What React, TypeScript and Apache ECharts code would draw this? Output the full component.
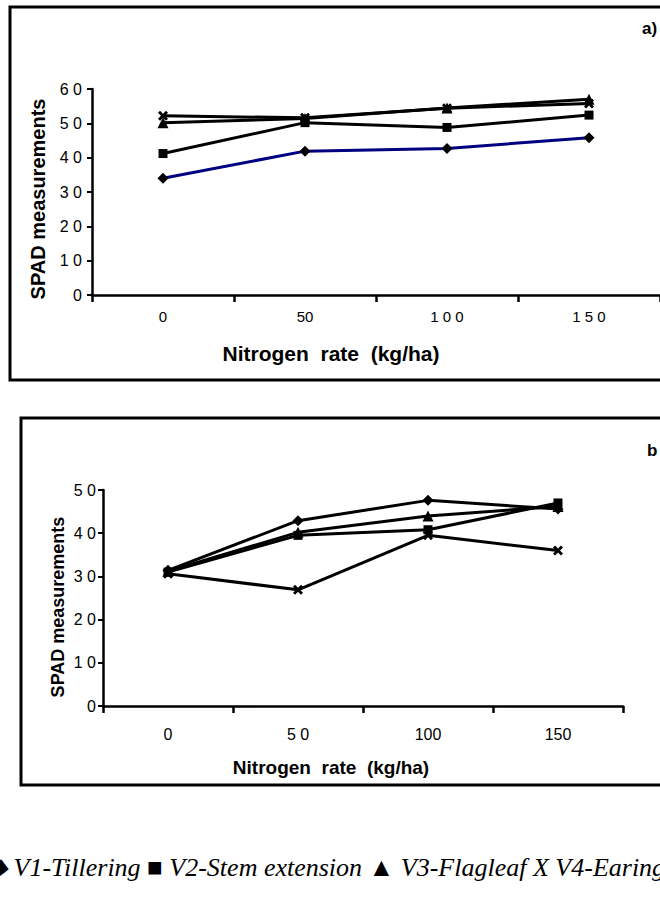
import React, { useEffect, useRef } from "react";
import * as echarts from "echarts";

const categories = ["0", "50", "100", "150"];
const xLabelsA = ["0", "50", "1 0 0", "1 5 0"];
const xLabelsB = ["0", "5 0", "100", "150"];
const yLabelsA = ["0", "1 0", "2 0", "3 0", "4 0", "5 0", "6 0"];
const yLabelsB = ["0", "1 0", "2 0", "3 0", "4 0", "5 0"];

const seriesNames = ["V1-Tillering", "V2-Stem extension", "V3-Flagleaf", "V4-Earing"];

// Panel a
const a_V1 = [34.0, 41.9, 42.7, 45.8];
const a_V2 = [41.2, 50.2, 48.8, 52.4];
const a_V3 = [50.2, 51.4, 54.5, 57.0];
const a_V4 = [52.2, 51.6, 54.4, 55.8];

// Panel b
const b_V1 = [31.4, 42.9, 47.6, 45.6];
const b_V2 = [31.0, 39.5, 40.8, 47.0];
const b_V3 = [31.2, 40.2, 44.0, 46.2];
const b_V4 = [30.6, 26.9, 39.5, 36.0];

const X_SYMBOL =
  "path://M0,2 L2,0 L5,3 L8,0 L10,2 L7,5 L10,8 L8,10 L5,7 L2,10 L0,8 L3,5 Z";
const symbols = ["diamond", "rect", "triangle", X_SYMBOL];
const symbolSizes = [11, 9, 11, 10];

export default function App() {
  const ref = useRef<HTMLDivElement>(null);
  useEffect(() => {
    if (!ref.current) return;
    const chart = echarts.init(ref.current, null, { renderer: "svg" });
    const sans = "Liberation Sans, Arial, sans-serif";
    const mkX = (gi: number, labels: string[], margin: number, size: number) => ({
      type: "category",
      gridIndex: gi,
      data: categories,
      boundaryGap: true,
      axisLine: { show: true, lineStyle: { color: "#000", width: 2.5 } },
      axisTick: { show: true, length: 7, lineStyle: { color: "#000", width: 2.5 } },
      axisLabel: {
        color: "#000",
        fontFamily: sans,
        fontSize: size,
        margin,
        formatter: (_v: string, i: number) => labels[i],
      },
      splitLine: { show: false },
    });
    const mkY = (gi: number, max: number, labels: string[], margin: number) => ({
      type: "value",
      gridIndex: gi,
      min: 0,
      max,
      interval: 10,
      axisLine: { show: true, lineStyle: { color: "#000", width: 2.5 } },
      axisTick: { show: true, length: 5, lineStyle: { color: "#000", width: 2 } },
      axisLabel: {
        color: "#000",
        fontFamily: sans,
        fontSize: 16,
        margin,
        formatter: (v: number) => labels[Math.round(v / 10)],
      },
      splitLine: { show: false },
    });
    const mkSeries = (gi: number, datasets: number[][], colors: string[]) =>
      datasets.map((d, i) => ({
        name: seriesNames[i],
        type: "line",
        xAxisIndex: gi,
        yAxisIndex: gi,
        data: d,
        symbol: symbols[i],
        symbolSize: symbolSizes[i],
        showAllSymbol: true,
        lineStyle: { color: colors[i], width: 3 },
        itemStyle: { color: "#000", borderColor: "#000", borderWidth: 0 },
        z: 3 + i,
      }));

    chart.setOption({
      animation: false,
      backgroundColor: "#fff",
      grid: [
        { left: 92, top: 89, width: 568, height: 206 },
        { left: 103, top: 490, width: 520, height: 216 },
      ],
      xAxis: [mkX(0, xLabelsA, 14, 15), mkX(1, xLabelsB, 20, 16)],
      yAxis: [mkY(0, 60, yLabelsA, 10), mkY(1, 50, yLabelsB, 7)],
      series: [
        ...mkSeries(0, [a_V1, a_V2, a_V3, a_V4], ["#000080", "#000", "#000", "#000"]),
        ...mkSeries(1, [b_V1, b_V2, b_V3, b_V4], ["#000", "#000", "#000", "#000"]),
      ],
      graphic: [
        {
          type: "rect",
          shape: { x: 10, y: 7, width: 720, height: 373 },
          style: { fill: "none", stroke: "#000", lineWidth: 3 },
          z: 1,
        },
        {
          type: "rect",
          shape: { x: 21, y: 418, width: 720, height: 367 },
          style: { fill: "none", stroke: "#000", lineWidth: 3 },
          z: 1,
        },
        {
          type: "text",
          x: 642,
          y: 28,
          style: {
            text: "a)",
            font: "bold 17px Liberation Sans",
            fill: "#000",
            verticalAlign: "middle",
          },
        },
        {
          type: "text",
          x: 647,
          y: 450,
          style: {
            text: "b",
            font: "bold 17px Liberation Sans",
            fill: "#000",
            verticalAlign: "middle",
          },
        },
        {
          type: "text",
          x: 38,
          y: 199,
          rotation: Math.PI / 2,
          style: {
            text: "SPAD measurements",
            font: "bold 20px Liberation Sans",
            fill: "#000",
            align: "center",
            verticalAlign: "middle",
          },
        },
        {
          type: "text",
          x: 58,
          y: 607,
          rotation: Math.PI / 2,
          style: {
            text: "SPAD measurements",
            font: "bold 18px Liberation Sans",
            fill: "#000",
            align: "center",
            verticalAlign: "middle",
          },
        },
        {
          type: "text",
          x: 331,
          y: 353,
          style: {
            text: "Nitrogen  rate  (kg/ha)",
            font: "bold 21px Liberation Sans Narrow, Liberation Sans",
            fill: "#000",
            align: "center",
            verticalAlign: "middle",
          },
        },
        {
          type: "text",
          x: 331,
          y: 767,
          style: {
            text: "Nitrogen  rate  (kg/ha)",
            font: "bold 19px Liberation Sans Narrow, Liberation Sans",
            fill: "#000",
            align: "center",
            verticalAlign: "middle",
          },
        },
        {
          type: "text",
          x: -13,
          y: 867,
          style: {
            text: "◆ V1-Tillering ■ V2-Stem extension ▲ V3-Flagleaf X V4-Earing",
            font: "italic 26px Liberation Serif",
            fill: "#000",
            verticalAlign: "middle",
          },
        },
      ],
    });
    return () => chart.dispose();
  }, []);
  return (
    <div
      ref={ref}
      style={{ position: "fixed", left: 0, top: 0, width: 660, height: 904, background: "#fff" }}
    />
  );
}
